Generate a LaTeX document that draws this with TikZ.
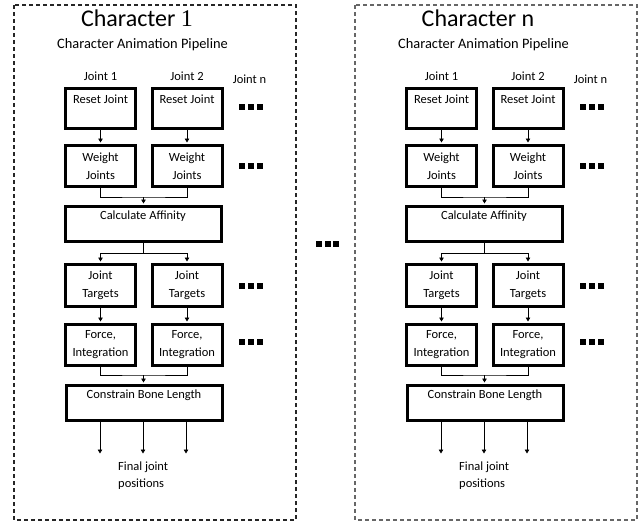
\documentclass[tikz,border=0pt]{standalone}
\usepackage{fontspec}
\setmainfont{Carlito}
\newfontfamily\numfont{Liberation Serif}
\usetikzlibrary{arrows.meta,calc}
\newcommand\dotrow{\rule{6pt}{6pt}\hspace{2.6pt}\rule{6pt}{6pt}\hspace{2.6pt}\rule{6pt}{6pt}}
\begin{document}
\begin{tikzpicture}[x=1pt,y=-1pt,
  stagebox/.style={draw,line width=3pt,inner sep=0pt,align=center,font=\fontsize{12.5}{18}\selectfont},
  smallbox/.style={stagebox,minimum width=70pt},
  widebox/.style={stagebox,minimum width=156pt},
  link/.style={line width=0.7pt},
  flow/.style={link,-{Triangle[length=4pt,width=4.5pt]},shorten >=1.5pt},
  label/.style={inner sep=0pt,font=\fontsize{12.5}{17}\selectfont},
  dots/.style={inner sep=0pt}]
\useasboundingbox (0,0) rectangle (644,522);
\pgfmathsetmacro\colA{100.5}
\pgfmathsetmacro\colB{187}
\pgfmathsetmacro\colM{143.5}
\foreach \sh/\p/\idx/\bcol in {0/a/{\numfont 1}/black!85, 341/b/n/black!60} {
\begin{scope}[xshift=\sh pt]
\draw[\bcol, line width=1.1pt, dash pattern=on 4pt off 3pt] (14,5) rectangle (296,520);
\node[inner sep=0pt, anchor=base, font=\fontsize{24}{28}\selectfont] (title\p) at (137,26) {Character \idx};
\node[inner sep=0pt, anchor=base, font=\fontsize{14.4}{17}\selectfont] (sub\p) at (142.5,48) {Character Animation Pipeline};
\node[label, anchor=base] (jointA\p) at (\colA,80) {Joint 1};
\node[label, anchor=base] (jointB\p) at (\colB,80) {Joint 2};
\node[label, anchor=base] (jointN\p) at (249.5,83.5) {Joint n};
\node[smallbox, minimum height=40pt] (resetA\p) at (\colA,108.5) {Reset Joint\\~};
\node[smallbox, minimum height=40pt] (resetB\p) at (\colB,108.5) {Reset Joint\\~};
\node[smallbox, minimum height=41pt] (weightA\p) at (\colA,166) {Weight\\Joints};
\node[smallbox, minimum height=41pt] (weightB\p) at (\colB,166) {Weight\\Joints};
\node[widebox, minimum height=35pt] (affinity\p) at (143,224) {Calculate Affinity\\~};
\node[smallbox, minimum height=42pt] (targetA\p) at (\colA,285.5) {Joint\\Targets};
\node[smallbox, minimum height=42pt] (targetB\p) at (\colB,285.5) {Joint\\Targets};
\node[smallbox, minimum height=41pt] (forceA\p) at (\colA,345) {Force,\\Integration};
\node[smallbox, minimum height=41pt] (forceB\p) at (\colB,345) {Force,\\Integration};
\node[widebox, minimum height=35pt] (bone\p) at (144,403) {Constrain Bone Length\\~};
\node[dots] (dotsR\p) at (251,107) {\dotrow};
\node[dots] (dotsW\p) at (251,166) {\dotrow};
\node[dots] (dotsT\p) at (251,286) {\dotrow};
\node[dots] (dotsF\p) at (251,342) {\dotrow};
\node[label, align=left, anchor=north west] (final\p) at (118,462) {Final joint\\positions};
\coordinate (joinW\p) at (\colM,197);
\coordinate (splitT\p) at (\colM,253);
\coordinate (joinF\p) at (\colM,375);
\coordinate (outA\p) at (100,455);
\coordinate (outB\p) at (143,455);
\coordinate (outC\p) at (186,455);
\draw[flow] (resetA\p) -- (weightA\p);
\draw[flow] (resetB\p) -- (weightB\p);
\draw[link] (weightA\p.south) |- (joinW\p) -| (weightB\p.south);
\draw[flow] (joinW\p) -- (affinity\p.north -| joinW\p);
\draw[link] (affinity\p.south -| splitT\p) -- (splitT\p);
\draw[flow] (splitT\p) -| (targetA\p.north);
\draw[flow] (splitT\p) -| (targetB\p.north);
\draw[flow] (targetA\p) -- (forceA\p);
\draw[flow] (targetB\p) -- (forceB\p);
\draw[link] (forceA\p.south) |- (joinF\p) -| (forceB\p.south);
\draw[flow] (joinF\p) -- (bone\p.north -| joinF\p);
\foreach \o in {outA,outB,outC}
  \draw[flow] (bone\p.south -| \o\p) -- (\o\p);
\end{scope}
}
\node[dots] (midDots) at (327.5,244) {\dotrow};
\end{tikzpicture}
\end{document}
